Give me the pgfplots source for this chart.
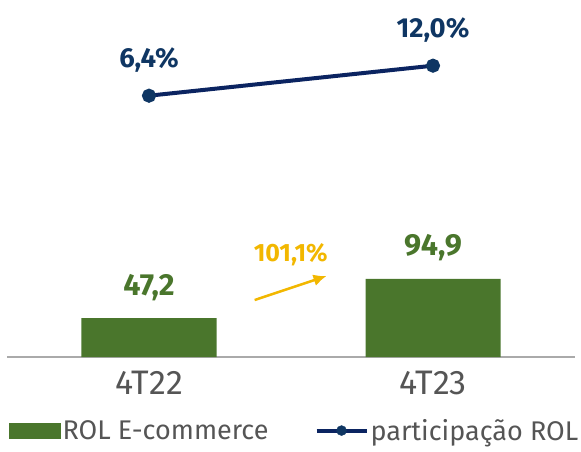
\documentclass[border=0pt]{standalone}
\usepackage{pgfplots}
\pgfplotsset{compat=1.18}
\usetikzlibrary{arrows.meta}
\usepackage{fontspec}
\setmainfont{Fira Sans}
\definecolor{barg}{HTML}{4A762C}
\definecolor{navy}{HTML}{0B2461}
\definecolor{navyt}{HTML}{0F3663}
\definecolor{gold}{HTML}{F2B700}
\definecolor{tgray}{HTML}{555555}
\definecolor{agray}{HTML}{AAAAAA}
\begin{document}
\begin{tikzpicture}[x=1pt,y=1pt]
\useasboundingbox (0,0) rectangle (581,451);
\begin{axis}[
  at={(7pt,94pt)}, anchor=south west,
  scale only axis, width=568pt, height=347pt,
  xmin=-0.5, xmax=1.5, ymin=0, ymax=422,
  clip=false,
  /pgf/number format/assume math mode=true,
  axis x line=bottom, axis y line=none,
  x axis line style={agray, line width=2pt, -},
  xtick={0,1}, xticklabels={4T22,4T23},
  major tick length=0pt,
  ytick=\empty,
  xticklabel style={text=tgray, font=\fontsize{34}{36}\selectfont, anchor=north, yshift=-11pt},
  legend style={at={(0.506,-0.212)}, anchor=center, draw=none, fill=none,
    legend columns=2, font=\fontsize{27}{30}\selectfont, text=tgray,
    /tikz/every even column/.append style={column sep=44pt}},
  legend cell align=left,
]
\addplot[ybar, bar width=135pt, bar shift=0pt, fill=barg, draw=none,
  nodes near coords={\pgfmathprintnumber[fixed,fixed zerofill,precision=1,use comma]{\pgfplotspointmeta}},
  every node near coord/.append style={anchor=center, yshift=31pt, text=barg, font=\fontsize{30.5}{32}\selectfont\bfseries},
  legend image code/.code={\fill[barg] (0pt,-8pt) rectangle (52pt,8pt);}]
  coordinates {(0,47.2) (1,94.9)};
\addlegendentry{ROL E-commerce}
\addlegendimage{legend image code/.code={\draw[navy,line width=4pt] (0pt,0pt)--(50pt,0pt); \fill[navyt] (25pt,0pt) circle (5pt);}}
\addlegendentry{participação ROL}
\draw[gold, line width=2.5pt, -{Latex[length=13pt,width=12pt]}] (axis cs:0.372,69.3) -- (axis cs:0.625,98.5);
\node[text=gold, font=\fontsize{25}{27}\selectfont\bfseries] at (axis cs:0.499,124) {101,1\%};
\end{axis}
\begin{axis}[
  at={(7pt,94pt)}, anchor=south west,
  scale only axis, width=568pt, height=347pt,
  xmin=-0.5, xmax=1.5, ymin=-42.35, ymax=22.39,
  hide axis, clip=false,
  /pgf/number format/assume math mode=true,
]
\addplot[navy, line width=4pt, mark=*, mark size=5pt, mark options={fill=navyt, draw=navyt},
  nodes near coords={\pgfmathprintnumber[fixed,fixed zerofill,precision=1,use comma]{\pgfplotspointmeta}\%},
  every node near coord/.append style={anchor=center, yshift=36pt, text=navyt, font=\fontsize{27.5}{29}\selectfont\bfseries}]
  coordinates {(0,6.4) (1,12.0)};
\end{axis}
\end{tikzpicture}
\end{document}
